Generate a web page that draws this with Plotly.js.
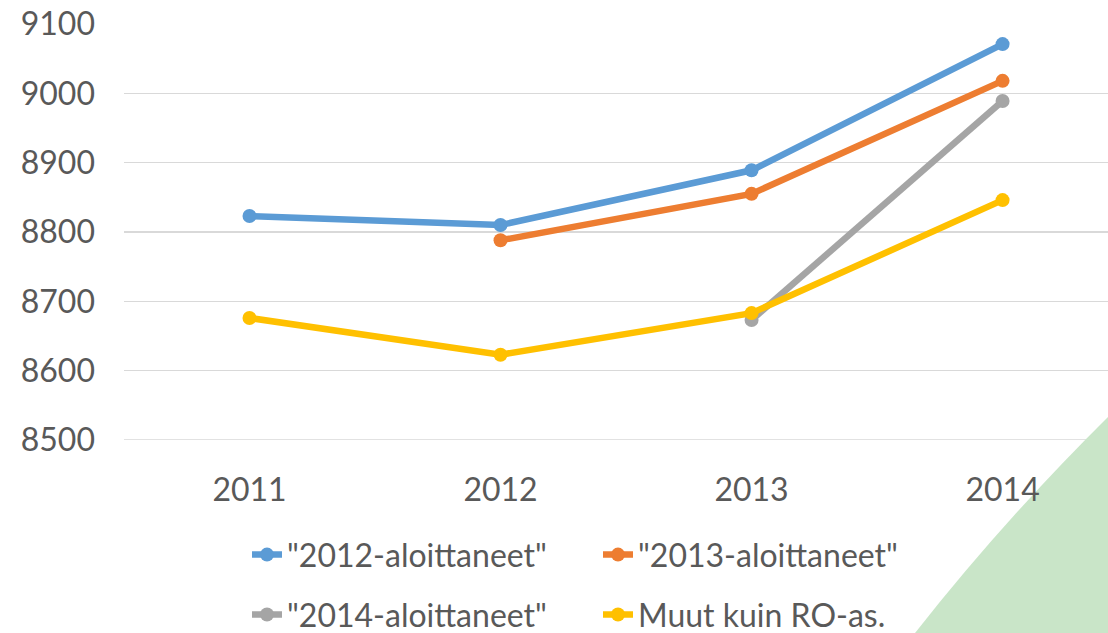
<!DOCTYPE html>
<html>
<head>
<meta charset="utf-8">
<script src="https://cdn.plot.ly/plotly-3.0.1.min.js"></script>
<style>html,body{margin:0;padding:0;background:#fff;}#chart{width:1108px;height:633px;}</style>
</head>
<body>
<div id="chart"></div>
<script>
var years = ["2011", "2012", "2013", "2014"];
var names = ['"2012-aloittaneet"', '"2013-aloittaneet"', '"2014-aloittaneet"', 'Muut kuin RO-as.'];
var s2012 = [8823, 8810, 8889, 9071];
var s2013 = [null, 8788, 8855, 9018];
var s2014 = [null, null, 8673, 8989];
var muut = [8676, 8623, 8683, 8846];
var colors = ["#5b9bd5", "#ed7d31", "#a5a5a5", "#ffc000"];
var yTicks = [8500, 8600, 8700, 8800, 8900, 9000, 9100];

var series = [s2012, s2013, s2014, muut];
var legendIds = ["legend", "legend", "legend2", "legend2"];
var traces = series.map(function (vals, i) {
  return {
    x: years, y: vals, name: names[i], type: "scatter", mode: "lines+markers",
    line: {color: colors[i], width: 6.5},
    marker: {color: colors[i], size: 14},
    cliponaxis: false,
    legend: legendIds[i]
  };
});

var font = {family: "Lato, 'Open Sans', sans-serif", size: 32, color: "#595959"};
var layout = {
  width: 1108, height: 633,
  margin: {l: 124, r: 0, t: 24, b: 193, autoexpand: false},
  paper_bgcolor: "#fff", plot_bgcolor: "#fff",
  font: font,
  showlegend: true,
  xaxis: {
    type: "category", range: [-0.5, 3.42],
    showgrid: false, zeroline: false, showline: false, ticks: "",
    tickfont: font, ticklabelstandoff: 28
  },
  yaxis: {
    range: [8500, 9100], tickvals: yTicks, ticktext: yTicks.map(String),
    showgrid: true, gridcolor: "#d9d9d9", gridwidth: 1.5,
    zeroline: false, showline: false,
    ticks: "", tickfont: font, ticklabelstandoff: 28
  },
  legend: {orientation: "h", x: 0.125, xanchor: "left", y: -0.276, yanchor: "middle",
    font: font, entrywidth: 306, bgcolor: "rgba(0,0,0,0)"},
  legend2: {orientation: "h", x: 0.125, xanchor: "left", y: -0.42, yanchor: "middle",
    font: font, entrywidth: 306, bgcolor: "rgba(0,0,0,0)"},
  shapes: [{
    type: "line", xref: "paper", yref: "y", x0: 0, x1: 1, y0: 8500, y1: 8500,
    layer: "below", line: {color: "#d9d9d9", width: 1.5}
  }, {
    type: "path", xref: "paper", yref: "paper", layer: "between",
    path: "M 1.0 0.0553 Q 0.8943 -0.1923 0.8039 -0.4639 L 1.0 -0.4639 Z",
    fillcolor: "#c9e5c8", line: {width: 0}
  }]
};

Plotly.newPlot("chart", traces, layout, {displayModeBar: false, staticPlot: true});
</script>
</body>
</html>
